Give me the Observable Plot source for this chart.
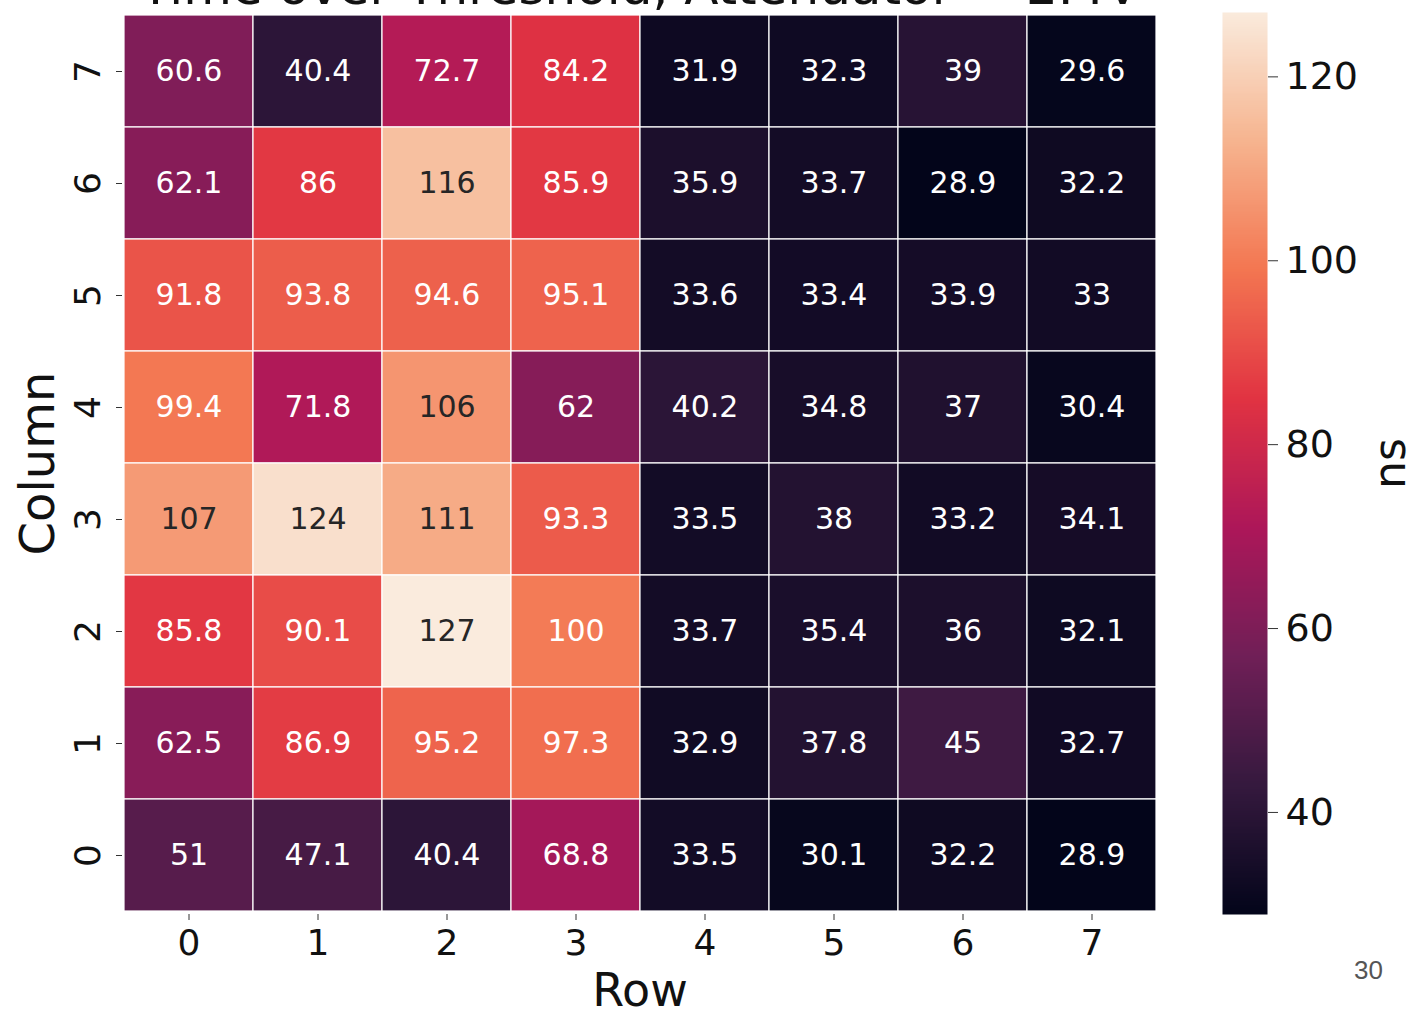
<!DOCTYPE html>
<html>
<head>
<meta charset="utf-8">
<script src="https://cdn.jsdelivr.net/npm/d3@7"></script>
<script src="https://cdn.jsdelivr.net/npm/@observablehq/plot@0.6"></script>
<style>
  html, body { margin: 0; padding: 0; background: white; }
  #wrap { position: relative; width: 1417px; height: 1014px; overflow: hidden; background: white; }
  #main { position: absolute; left: 0; top: 0; }
  #cbar { position: absolute; left: 1200px; top: 0; }
  #page { position: absolute; left: 1354px; top: 955px; font-family: "Liberation Sans", sans-serif; font-size: 26px; color: #555; }
</style>
</head>
<body>
<div id="wrap">
  <div id="main"></div>
  <div id="cbar"></div>
  <div id="page">30</div>
</div>
<script>
// ---- data ----
const rowLabels = [0, 1, 2, 3, 4, 5, 6, 7];          // x axis ("Row")
const columnLabels = [7, 6, 5, 4, 3, 2, 1, 0];       // y axis ("Column"), top to bottom
const values = [
  [60.6, 40.4, 72.7, 84.2, 31.9, 32.3, 39, 29.6],    // Column 7
  [62.1, 86, 116, 85.9, 35.9, 33.7, 28.9, 32.2],     // Column 6
  [91.8, 93.8, 94.6, 95.1, 33.6, 33.4, 33.9, 33],    // Column 5
  [99.4, 71.8, 106, 62, 40.2, 34.8, 37, 30.4],       // Column 4
  [107, 124, 111, 93.3, 33.5, 38, 33.2, 34.1],       // Column 3
  [85.8, 90.1, 127, 100, 33.7, 35.4, 36, 32.1],      // Column 2
  [62.5, 86.9, 95.2, 97.3, 32.9, 37.8, 45, 32.7],    // Column 1
  [51, 47.1, 40.4, 68.8, 33.5, 30.1, 32.2, 28.9]     // Column 0
];
const colorbarTicks = [40, 60, 80, 100, 120];
const titleText = "Time over Threshold, Attenuator = 2.4V";

// ---- rocket colormap ----
const rocketStops = ["#03051a", "#35193e", "#701f57", "#ad1759", "#e13342", "#f37651", "#f6b48f", "#faebdd"];
const rocket = d3.piecewise(d3.interpolateRgb, rocketStops);

const data = [];
columnLabels.forEach((c, i) => rowLabels.forEach((r, j) => data.push({row: r, col: c, value: values[i][j]})));
const vmin = d3.min(data, d => d.value), vmax = d3.max(data, d => d.value);
const fmt = d3.format(".3~g");

function lum(v) {
  const c = d3.rgb(rocket((v - vmin) / (vmax - vmin)));
  const lin = x => { x /= 255; return x <= 0.03928 ? x / 12.92 : Math.pow((x + 0.055) / 1.055, 2.4); };
  return 0.2126 * lin(c.r) + 0.7152 * lin(c.g) + 0.0722 * lin(c.b);
}
const colorOpts = {type: "linear", domain: [vmin, vmax], interpolate: rocket};

const main = Plot.plot({
  width: 1180, height: 1014,
  marginLeft: 122, marginRight: 23, marginTop: 12, marginBottom: 100,
  style: {fontFamily: "DejaVu Sans", background: "white", overflow: "visible"},
  x: {type: "band", domain: rowLabels, padding: 0, label: null},
  y: {type: "band", domain: columnLabels, padding: 0, label: null},
  color: colorOpts,
  marks: [
    Plot.cell(data, {x: "row", y: "col", fill: "value", stroke: "white", strokeWidth: 1.2}),
    Plot.text(data.filter(d => lum(d.value) <= 0.408), {x: "row", y: "col", text: d => fmt(d.value), fill: "white", fontSize: 30}),
    Plot.text(data.filter(d => lum(d.value) > 0.408), {x: "row", y: "col", text: d => fmt(d.value), fill: "#262626", fontSize: 30}),
    Plot.axisX({tickSize: 6, tickPadding: 9, fontSize: 36, label: null, stroke: "#333", fill: "#111"}),
    Plot.axisY({tickSize: 6, tickFormat: () => "", label: null, stroke: "#333"}),
    Plot.text(columnLabels, {y: d => d, frameAnchor: "left", dx: -34, rotate: -90, textAnchor: "middle", lineAnchor: "middle", fontSize: 36, fill: "#111"}),
    Plot.text(["Column"], {frameAnchor: "left", dx: -84, rotate: -90, textAnchor: "middle", lineAnchor: "middle", fontSize: 48, fill: "#111"}),
    Plot.text(["Row"], {frameAnchor: "bottom", dy: 91, textAnchor: "middle", lineAnchor: "bottom", fontSize: 46, fill: "#111"}),
    Plot.text([titleText], {frameAnchor: "top", dy: -9, textAnchor: "middle", lineAnchor: "bottom", fontSize: 50, fill: "#111"})
  ]
});
document.getElementById("main").appendChild(main);

const cbar = Plot.plot({
  width: 217, height: 1014,
  marginLeft: 22, marginRight: 150, marginTop: 12, marginBottom: 100,
  style: {fontFamily: "DejaVu Sans", background: "white", overflow: "visible"},
  x: {domain: [0, 1], axis: null},
  y: {domain: [vmin, vmax], label: null},
  color: colorOpts,
  marks: [
    Plot.raster({x1: 0, x2: 1, y1: vmin, y2: vmax, width: 1, height: 512, fill: (x, y) => y, imageRendering: "auto"}),
    Plot.axisY({anchor: "right", ticks: colorbarTicks, tickSize: 10, tickPadding: 8, fontSize: 38, label: null, stroke: "#333", fill: "#111"}),
    Plot.text(["ns"], {frameAnchor: "right", dx: 123, rotate: -90, textAnchor: "middle", lineAnchor: "middle", fontSize: 44, fill: "#111"})
  ]
});
document.getElementById("cbar").appendChild(cbar);
</script>
</body>
</html>
